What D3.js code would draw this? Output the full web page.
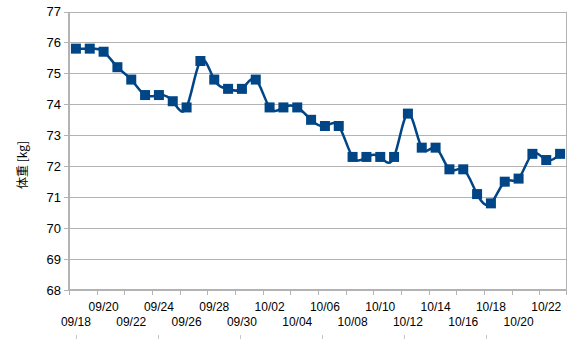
<!DOCTYPE html>
<html>
<head>
<meta charset="utf-8">
<script src="https://cdn.jsdelivr.net/npm/d3@7"></script>
<style>
  html, body { margin: 0; padding: 0; background: #fff; }
  svg { display: block; font-family: "Liberation Sans", Arial, sans-serif; }
</style>
</head>
<body>
<svg id="chart" width="573" height="339"></svg>
<script>
// Daily body weight, 09/18 – 10/23
const dates = [
  "09/18","09/19","09/20","09/21","09/22","09/23","09/24","09/25","09/26","09/27",
  "09/28","09/29","09/30","10/01","10/02","10/03","10/04","10/05","10/06","10/07",
  "10/08","10/09","10/10","10/11","10/12","10/13","10/14","10/15","10/16","10/17",
  "10/18","10/19","10/20","10/21","10/22","10/23"
];
const weights = [
  75.8, 75.8, 75.7, 75.2, 74.8, 74.3, 74.3, 74.1, 73.9, 75.4,
  74.8, 74.5, 74.5, 74.8, 73.9, 73.9, 73.9, 73.5, 73.3, 73.3,
  72.3, 72.3, 72.3, 72.3, 73.7, 72.6, 72.6, 71.9, 71.9, 71.1,
  70.8, 71.5, 71.6, 72.4, 72.2, 72.4
];
const yTicks = [68, 69, 70, 71, 72, 73, 74, 75, 76, 77];
const yTitle = "体重 [kg]";

const svg = d3.select("#chart");
const plot = { left: 69, right: 567, top: 11.5, bottom: 290 };
const gridColor = "#b3b3b3";
const seriesColor = "#004586";

const x = d3.scaleBand().domain(dates).range([plot.left, plot.right]);
const cx = d => x(d) + x.bandwidth() / 2;
const y = d3.scaleLinear().domain([68, 77]).range([plot.bottom, plot.top]);

// horizontal grid
svg.append("g").selectAll("line").data(yTicks).join("line")
  .attr("x1", plot.left).attr("x2", plot.right)
  .attr("y1", d => Math.round(y(d)) + 0.5).attr("y2", d => Math.round(y(d)) + 0.5)
  .attr("stroke", gridColor).attr("stroke-width", 1);

// right frame edge
svg.append("line")
  .attr("x1", plot.right - 0.5).attr("x2", plot.right - 0.5)
  .attr("y1", Math.round(y(77)) + 0.5).attr("y2", plot.bottom)
  .attr("stroke", gridColor).attr("stroke-width", 1);

// y axis
const yAxis = svg.append("g");
yAxis.append("line")
  .attr("x1", plot.left).attr("x2", plot.left)
  .attr("y1", Math.round(y(77))).attr("y2", plot.bottom + 1)
  .attr("stroke", gridColor).attr("stroke-width", 2);
yAxis.selectAll("line.tick").data(yTicks).join("line").attr("class", "tick")
  .attr("x1", plot.left - 5).attr("x2", plot.left)
  .attr("y1", d => Math.round(y(d)) + 0.5).attr("y2", d => Math.round(y(d)) + 0.5)
  .attr("stroke", gridColor).attr("stroke-width", 1);
yAxis.selectAll("text").data(yTicks).join("text")
  .attr("x", plot.left - 8).attr("y", d => y(d))
  .attr("dy", "0.36em").attr("text-anchor", "end")
  .attr("font-size", 13).attr("fill", "#000")
  .text(d => d);

// x axis
const xAxis = svg.append("g");
xAxis.append("line")
  .attr("x1", plot.left - 1).attr("x2", plot.right)
  .attr("y1", plot.bottom).attr("y2", plot.bottom)
  .attr("stroke", gridColor).attr("stroke-width", 2);
const tickDates = dates.filter((d, i) => i % 2 === 0);
xAxis.selectAll("line.tick").data(tickDates).join("line").attr("class", "tick")
  .attr("x1", d => Math.round(x(d)) + 0.5).attr("x2", d => Math.round(x(d)) + 0.5)
  .attr("y1", plot.bottom).attr("y2", plot.bottom + 5)
  .attr("stroke", gridColor).attr("stroke-width", 1);
xAxis.append("line")
  .attr("x1", plot.right - 0.5).attr("x2", plot.right - 0.5)
  .attr("y1", plot.bottom).attr("y2", plot.bottom + 5)
  .attr("stroke", gridColor).attr("stroke-width", 1);
xAxis.selectAll("text").data(tickDates).join("text")
  .attr("x", d => cx(d))
  .attr("y", (d, i) => i % 2 === 0 ? 326 : 311)
  .attr("text-anchor", "middle")
  .attr("font-size", 12).attr("fill", "#000")
  .text(d => d);

// faint marks along the bottom edge
const edgeMarks = d3.range(0, 6);
svg.append("g").selectAll("line").data(edgeMarks).join("line")
  .attr("x1", i => Math.round(cx(dates[0]) + i * 5.93 * x.step()) + 0.5)
  .attr("x2", i => Math.round(cx(dates[0]) + i * 5.93 * x.step()) + 0.5)
  .attr("y1", 335).attr("y2", 339)
  .attr("stroke", "#c8c8c8").attr("stroke-width", 1);

// y title
svg.append("text")
  .attr("transform", `translate(27,${165}) rotate(-90)`)
  .attr("text-anchor", "middle")
  .attr("font-size", 12).attr("fill", "#000")
  .attr("font-family", "'Noto Sans CJK JP', 'Liberation Sans', sans-serif")
  .text(yTitle);

// series line
const pts = dates.map((d, i) => ({ d, v: weights[i] }));
const line = d3.line().x(p => cx(p.d)).y(p => y(p.v)).curve(d3.curveNatural);
svg.append("path")
  .datum(pts)
  .attr("d", line)
  .attr("fill", "none")
  .attr("stroke", seriesColor)
  .attr("stroke-width", 2.5);

// square markers
const ms = 10;
svg.append("g").selectAll("rect").data(pts).join("rect")
  .attr("x", p => cx(p.d) - ms / 2).attr("y", p => y(p.v) - ms / 2)
  .attr("width", ms).attr("height", ms)
  .attr("fill", seriesColor);
</script>
</body>
</html>
